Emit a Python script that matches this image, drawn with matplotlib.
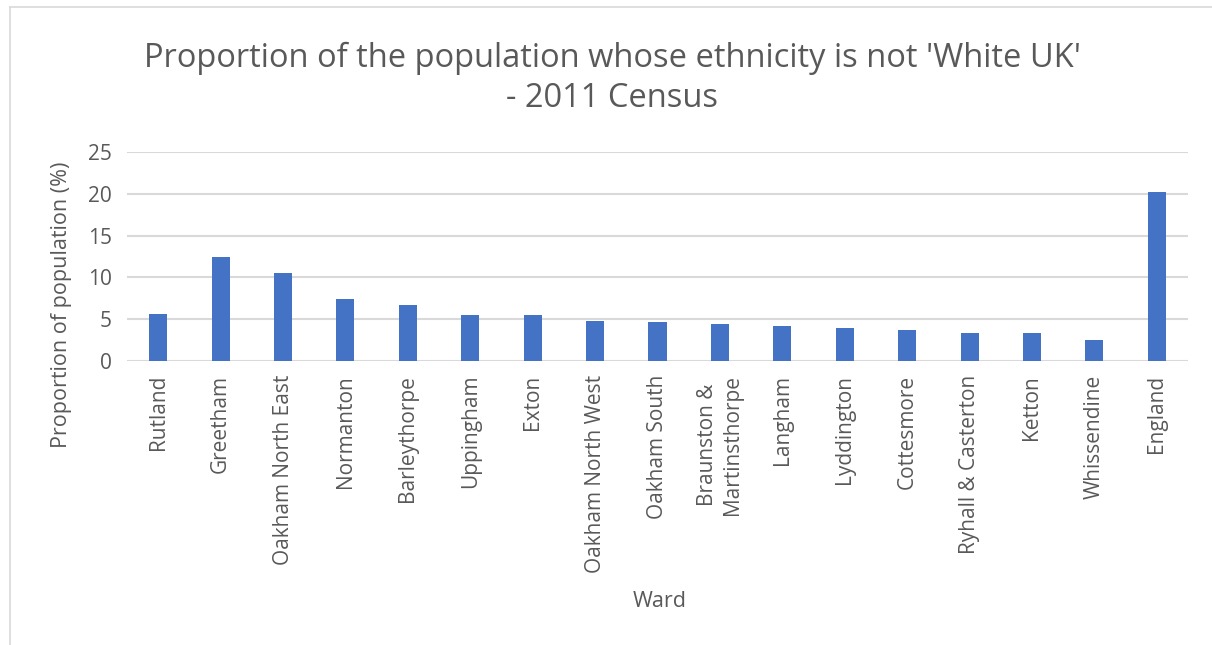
import matplotlib
matplotlib.use("Agg")
import matplotlib.pyplot as plt
from matplotlib.lines import Line2D

wards = ["Rutland", "Greetham", "Oakham North East", "Normanton", "Barleythorpe",
         "Uppingham", "Exton", "Oakham North West", "Oakham South",
         "Braunston &\nMartinsthorpe", "Langham", "Lyddington", "Cottesmore",
         "Ryhall & Casterton", "Ketton", "Whissendine", "England"]
values = [5.6, 12.45, 10.5, 7.45, 6.7, 5.55, 5.5, 4.8, 4.65, 4.45, 4.2, 3.95,
          3.65, 3.35, 3.35, 2.5, 20.2]
yticks = [0, 5, 10, 15, 20, 25]

plt.rcParams['font.family'] = ['Open Sans', 'DejaVu Sans']
txt = '#595959'
grid = '#d9d9d9'

W, H = 1212, 645
fig = plt.figure(figsize=(W / 100, H / 100), dpi=100)
ax = fig.add_axes([127 / W, 1 - 361 / H, (1188 - 127) / W, (361 - 152) / H])

x = list(range(len(wards)))
ax.bar(x, values, width=0.29, color='#4472C4', zorder=3)
ax.set_xlim(-0.5, len(wards) - 0.5)
ax.set_ylim(0, 25)
ax.set_yticks(yticks)
ax.set_yticklabels([str(t) for t in yticks])
ax.set_xticks(x)
ax.set_xticklabels(wards, rotation=90, va='top', ha='center', linespacing=1.3)
ax.grid(axis='y', color=grid, linewidth=1.5, zorder=0)
for s in ax.spines.values():
    s.set_visible(False)
ax.tick_params(axis='both', length=0, colors=txt, labelsize=15)
ax.tick_params(axis='y', pad=11)
ax.tick_params(axis='x', pad=10)

ax.set_ylabel("Proportion of population (%)", color=txt, fontsize=15.5)
ax.yaxis.set_label_coords((62 - 127) / (1188 - 127), (361 - 305) / (361 - 152))
ax.set_xlabel("Ward", color=txt, fontsize=15.5)
ax.xaxis.set_label_coords((660 - 127) / (1188 - 127), (361 - 602) / (361 - 152))
ax.xaxis.label.set_va('center')
ax.yaxis.label.set_va('center')

fig.text(0.505, 1 - 78 / H, "Proportion of the population whose ethnicity is not 'White UK'\n- 2011 Census",
         ha='center', va='center', color=txt, fontsize=23.5, linespacing=1.28)

fig.add_artist(Line2D([10 / W, 1], [1 - 7 / H, 1 - 7 / H], color=grid, linewidth=1.2))
fig.add_artist(Line2D([10 / W, 10 / W], [0, 1 - 7 / H], color=grid, linewidth=1.2))

fig.savefig("out.png", dpi=100)
